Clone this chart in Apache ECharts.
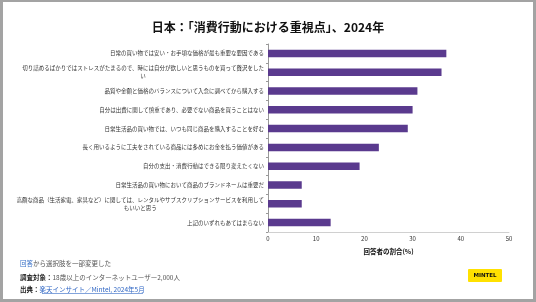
<!DOCTYPE html>
<html><head><meta charset="utf-8">
<script src="https://cdn.jsdelivr.net/npm/echarts@6/dist/echarts.min.js"></script>
<style>
html,body{margin:0;padding:0;background:#a3a3a3;width:536px;height:302px;overflow:hidden}
#c{position:absolute;left:3px;top:2px;width:530px;height:297px;background:#fff}
</style></head><body>
<div id="c"></div>
<script>
var titleText = '日本：「消費行動における重視点」、2024年';
var categories = [
  '日常の買い物では安い・お手頃な価格が最も重要な要因である',
  '切り詰めるばかりではストレスがたまるので、時には自分が欲しいと思うものを買って贅沢をした\nい',
  '品質や金額と価格のバランスについて入念に調べてから購入する',
  '自分は出費に関して慎重であり、必要でない商品を買うことはない',
  '日常生活品の買い物では、いつも同じ商品を購入することを好む',
  '長く用いるように工夫をされている商品には多めにお金を払う価値がある',
  '自分の支出・消費行動はできる限り変えたくない',
  '日常生活品の買い物において商品のブランドネームは重要だ',
  '高額な商品（生活家電、家具など）に関しては、レンタルやサブスクリプションサービスを利用して\nもいいと思う',
  '上記のいずれもあてはまらない'
];
var values = [37, 36, 31, 30, 29, 23, 19, 7, 7, 13];
var xTicks = [0, 10, 20, 30, 40, 50];
var axisName = '回答者の割合(%)';
var note1a = '回答', note1b = 'から選択肢を一部変更した';
var note2a = '調査対象：', note2b = '18歳以上のインターネットユーザー2,000人';
var note3a = '出典：', note3b = '楽天インサイト／Mintel, 2024年5月';
var logoText = 'MINTEL';

var font = '"Noto Sans CJK JP", "Noto Sans", sans-serif';
var chart = echarts.init(document.getElementById('c'), null, {renderer:'canvas'});
chart.setOption({
  animation:false,
  textStyle:{fontFamily:font},
  title:{text:titleText,left:'center',top:14,textStyle:{fontSize:12,fontWeight:'bold',color:'#111',fontFamily:font}},
  grid:{left:265,right:24,top:42,bottom:67,containLabel:false},
  xAxis:{type:'value',min:xTicks[0],max:xTicks[xTicks.length-1],interval:10,
    axisLine:{show:true,lineStyle:{color:'#d0d0d0'}},axisTick:{show:false},
    splitLine:{show:false},
    axisLabel:{fontSize:6,color:'#333',margin:4,fontFamily:font},
    name:axisName,nameLocation:'middle',nameGap:16,
    nameTextStyle:{fontSize:6.5,fontWeight:'bold',color:'#111',fontFamily:font}},
  yAxis:{type:'category',data:categories,inverse:true,
    axisLine:{show:true,lineStyle:{color:'#999'}},
    axisTick:{show:true,length:2,lineStyle:{color:'#999'}},
    axisLabel:{fontSize:5.5,color:'#333',margin:4,lineHeight:8,align:'right',fontFamily:font,
      formatter:function(v){return v.split('\n').map(function(s){return '{c|'+s+'}';}).join('\n');},
      rich:{c:{fontSize:5.5,color:'#333',lineHeight:8,align:'center',fontFamily:font}}}},
  series:[{type:'bar',data:values,barWidth:'40%',itemStyle:{color:'#5a3a8e'},silent:true}],
  graphic:[
    {type:'text',left:17,top:258.5,style:{text:'{a|'+note1a+'}{b|'+note1b+'}',
      rich:{a:{fontSize:6.5,fill:'#3a72c8',fontFamily:font},b:{fontSize:6.5,fill:'#555',fontFamily:font}}}},
    {type:'text',left:17,top:272,style:{text:'{a|'+note2a+'}{b|'+note2b+'}',
      rich:{a:{fontSize:6.5,fontWeight:'bold',fill:'#222',fontFamily:font},b:{fontSize:6.5,fill:'#555',fontFamily:font}}}},
    {type:'text',left:17,top:284.5,style:{text:'{a|'+note3a+'}{b|'+note3b+'}',
      rich:{a:{fontSize:6.5,fontWeight:'bold',fill:'#222',fontFamily:font},b:{fontSize:6.5,fill:'#2f66c4',fontFamily:font}}}},
    {type:'line',shape:{x1:39,y1:291.5,x2:140,y2:291.5},style:{stroke:'#2f66c4',lineWidth:0.6}},
    {type:'rect',shape:{x:465,y:267,width:34,height:13,r:1},style:{fill:'#ffe100'}},
    {type:'text',x:482,y:273.5,style:{text:logoText,fontSize:5.5,fontWeight:'bold',fill:'#111',align:'center',verticalAlign:'middle',fontFamily:'"DejaVu Sans", sans-serif'}}
  ]
});
</script>
</body></html>
